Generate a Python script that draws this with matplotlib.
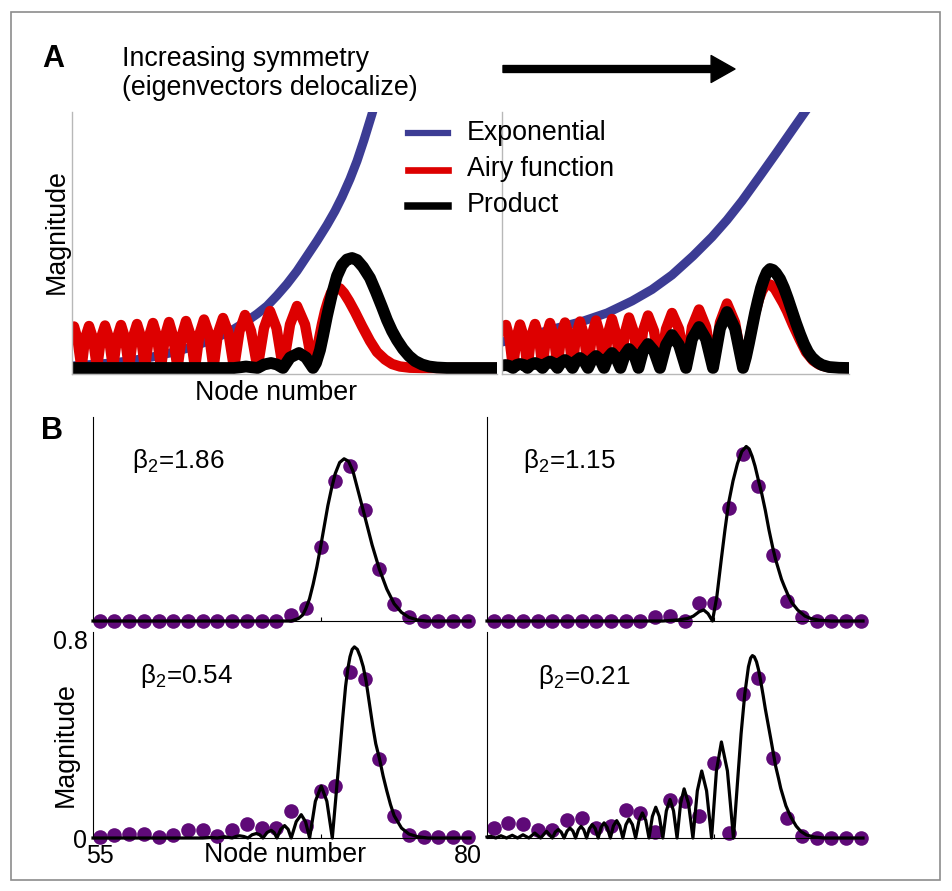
import matplotlib
matplotlib.use("Agg")
import matplotlib.pyplot as plt
from matplotlib.lines import Line2D
from matplotlib.patches import Rectangle, FancyArrowPatch

plt.rcParams['font.family'] = ['Liberation Sans', 'DejaVu Sans']
plt.rcParams['mathtext.fontset'] = 'custom'
plt.rcParams['mathtext.rm'] = 'Liberation Sans'
plt.rcParams['mathtext.default'] = 'regular'

# ---- panel A (arbitrary units) ----
a_left_exp_x = [0, 20, 40, 60, 80, 100, 120, 135, 150, 162, 175, 185, 195, 205, 215,
                225, 235, 245, 255, 263, 270, 278, 285, 292, 300, 306]
a_left_exp_y = [2, 3.5, 5, 7.5, 11, 15.5, 21, 26.5, 33, 39, 47, 54, 62, 72.5, 84,
                97, 112, 127, 143, 157, 171, 189, 207, 228, 254, 275]

a_left_airy_x = [0, 2, 5.5, 9.5, 13, 17, 21, 25, 29, 33, 37, 41, 45, 49, 53, 57,
                 61, 65, 69, 73, 77, 81, 85, 89, 93, 97, 101, 105.5, 110, 114, 118.5, 123,
                 127.5, 132, 137, 141.5, 146, 151, 156.5, 162, 167.5, 173, 179, 185.5,
                 192, 198, 204.5, 211, 218, 225, 233, 241,
                 244, 247, 250, 253, 256, 259, 262, 264, 268, 272, 277, 283, 290, 298,
                 305, 313, 320, 328, 338, 350, 425]
a_left_airy_y = [40, 41.5, 29, 0, 29.5, 42, 29.5, 0, 30, 42.5, 30, 0, 30, 43, 30, 0,
                 31, 44, 31, 0, 31.5, 45, 31.5, 0, 32, 46, 32, 0, 33, 47, 33, 0,
                 34, 48.5, 34, 0, 35, 50, 35, 0, 37, 53, 37, 0,
                 40, 57, 40, 0, 43.5, 62, 43.5, 0,
                 14, 29, 44, 57, 67, 75, 79.5, 81, 79.5, 75, 67, 56, 42, 27,
                 16, 8.5, 4, 1.5, 0.3, 0, 0]

a_left_prod_x = [0, 162, 168, 174, 180, 185.5, 192, 199, 205, 211, 218, 227, 234, 241,
                 244, 248, 251, 255, 260, 265, 270, 275, 280, 285, 291, 298, 304, 310,
                 315, 320, 325, 331, 337, 343, 350, 357, 365, 375, 425]
a_left_prod_y = [0, 0, 0.7, 1.5, 0.7, 0, 3.5, 5, 3.5, 0, 10.5, 15, 10.5, 0,
                 5, 18, 32, 52, 74, 92, 103, 108.5, 110, 108, 101, 90, 76, 61,
                 48, 37, 28, 19, 12, 7, 3.5, 1.5, 0.5, 0, 0]

a_right_exp_x = [0, 25, 55, 80, 105, 130, 150, 170, 191, 210, 225, 240, 258, 275, 291, 305, 315]
a_right_exp_y = [26, 31.5, 40, 46.5, 55, 67, 78.5, 93, 112, 131, 148, 167, 192, 216, 239, 259, 273]

a_right_airy_x = [0, 4, 7.5, 11, 14.5, 18, 22, 25.5, 29, 33, 37, 40.5, 44, 48, 52, 55.5,
                  59, 63, 67, 70.5, 74, 78, 82, 86, 90, 94, 98, 102, 106, 110, 114, 118.5,
                  123, 127, 132, 136.5, 141, 146, 152, 158, 164, 170, 177, 184,
                  190, 197, 204, 211, 218, 225, 233, 241,
                  244, 248, 251, 254, 257, 260, 263, 266, 269, 273, 277, 281, 285, 291,
                  298, 304, 311, 317, 324, 335, 347]
a_right_airy_y = [38, 43, 30, 0, 30.5, 43.5, 30.5, 0, 31, 44, 31, 0, 31.5, 45, 31.5, 0,
                  32, 45.5, 32, 0, 33, 46.5, 33, 0, 33.5, 47.5, 33.5, 0, 34.5, 49, 34.5, 0,
                  35.5, 50.5, 35.5, 0, 37, 52.5, 37, 0, 39, 55, 39, 0,
                  41, 58.5, 41, 0, 45.5, 64.5, 45.5, 0,
                  14, 31, 46, 58, 69, 77, 82, 84, 83, 79, 72, 65, 57, 43,
                  28, 16, 7.5, 3.5, 1.2, 0.2, 0]

a_right_prod_x = [0, 4, 7.5, 11, 14.5, 18, 22, 25.5, 29, 33, 37, 40.5, 44, 48, 52, 55.5,
                  59, 63, 67, 70.5, 74, 78, 82, 86, 90, 94, 98, 102, 106, 110, 114, 118.5,
                  123, 127, 132, 136.5, 141, 146, 152, 158, 164, 170, 177, 184,
                  190, 197, 204, 211, 218, 225, 233, 241,
                  244, 247, 250, 253, 256, 259, 262, 265, 268, 271, 274, 278, 282, 286,
                  290, 294, 298, 302, 306, 310, 315, 320, 327, 337, 347]
a_right_prod_y = [2.5, 3, 2, 0, 3, 4, 3, 0, 3.5, 5, 3.5, 0, 4.5, 6.5, 4.5, 0,
                  5.5, 8, 5.5, 0, 7, 10, 7, 0, 8.5, 12, 8.5, 0, 10.5, 15, 10.5, 0,
                  13.5, 19, 13.5, 0, 17, 24, 17, 0, 23, 33, 23, 0,
                  29, 41, 29, 0, 39.5, 56, 39.5, 0,
                  11, 25, 40, 55, 68, 80, 89, 96, 99, 98, 95, 89, 80, 69,
                  57, 45, 34, 24, 16, 10.5, 6, 3, 1, 0.2, 0]

legend_labels = ["Exponential", "Airy function", "Product"]

# ---- panel B ----
nodes = [55, 56, 57, 58, 59, 60, 61, 62, 63, 64, 65, 66, 67,
         68, 69, 70, 71, 72, 73, 74, 75, 76, 77, 78, 79, 80]
beta_labels = ["1.86", "1.15", "0.54", "0.21"]

dots_186 = [0, 0, 0, 0, 0, 0, 0, 0, 0, 0, 0, 0, 0,
            0.024, 0.053, 0.30, 0.57, 0.63, 0.45, 0.21, 0.07, 0.016, 0, 0, 0, 0]
dots_115 = [0, 0, 0, 0, 0, 0, 0, 0, 0, 0, 0, 0.016, 0.02,
            0, 0.073, 0.073, 0.46, 0.68, 0.55, 0.27, 0.08, 0.016, 0, 0, 0, 0]
dots_054 = [0.004, 0.013, 0.018, 0.018, 0.004, 0.013, 0.031, 0.031, 0.007, 0.031, 0.058, 0.040, 0.040,
            0.108, 0.050, 0.189, 0.209, 0.668, 0.641, 0.317, 0.088, 0.013, 0.004, 0.004, 0.004, 0.004]
dots_021 = [0.04, 0.061, 0.058, 0.031, 0.031, 0.074, 0.081, 0.040, 0.047, 0.112, 0.101, 0.023, 0.155,
            0.148, 0.088, 0.301, 0.020, 0.580, 0.644, 0.324, 0.081, 0.009, 0, 0, 0, 0]

fit_186_x = [54.55, 68.0, 68.5, 68.8, 69.0, 69.25, 69.5, 69.75, 70.0, 70.25, 70.5, 70.75, 71.0,
             71.3, 71.6, 71.9, 72.2, 72.55, 72.9, 73.2, 73.5, 73.75, 74.0, 74.25, 74.5, 74.75,
             75.0, 75.5, 76.0, 76.6, 77.2, 80.15]
fit_186_y = [0, 0, 0.01, 0.025, 0.05, 0.09, 0.15, 0.22, 0.30, 0.385, 0.47, 0.54, 0.60,
             0.645, 0.66, 0.65, 0.61, 0.53, 0.45, 0.38, 0.31, 0.26, 0.21, 0.17, 0.13, 0.10,
             0.07, 0.035, 0.015, 0.004, 0, 0]

fit_115_x = [54.55, 66.5, 67.5, 68.2, 68.6, 69.0, 69.3, 69.6, 69.9, 70.2, 70.5, 70.75, 71.0,
             71.3, 71.6, 71.9, 72.2, 72.4, 72.6, 72.8, 73.0, 73.25, 73.5, 73.75, 74.0, 74.2,
             74.4, 74.6, 74.8, 75.05, 75.3, 75.7, 76.2, 76.6, 77.2, 78.0, 80.15]
fit_115_y = [0, 0, 0.004, 0.01, 0.02, 0.038, 0.045, 0.03, 0, 0.1, 0.25, 0.37, 0.48,
             0.57, 0.64, 0.69, 0.71, 0.70, 0.67, 0.63, 0.58, 0.52, 0.45, 0.37, 0.30, 0.25,
             0.21, 0.17, 0.14, 0.105, 0.075, 0.045, 0.02, 0.01, 0.003, 0, 0]

fit_054_x = [54.55, 62.0, 62.5, 63.0, 63.5, 64.0, 64.25, 64.5, 64.8, 65.07, 65.35, 65.64, 65.87,
             66.09, 66.37, 66.65, 66.85, 67.04, 67.3, 67.56, 67.8, 68.01, 68.35, 68.69, 68.98,
             69.26, 69.65, 70.05, 70.43, 70.8, 71.05, 71.3, 71.5, 71.7, 71.85, 72.0, 72.15,
             72.3, 72.5, 72.7, 72.9, 73.1, 73.3, 73.55, 73.75, 74.0, 74.25, 74.5, 74.75,
             75.0, 75.5, 76.0, 76.6, 77.3, 80.15]
fit_054_y = [0, 0, 0.002, 0, 0.005, 0, 0.006, 0.009, 0.006, 0, 0.013, 0.018, 0.013,
             0, 0.022, 0.031, 0.022, 0, 0.035, 0.05, 0.035, 0, 0.066, 0.094, 0.066,
             0, 0.148, 0.209, 0.148, 0, 0.17, 0.34, 0.48, 0.61, 0.68, 0.73, 0.76,
             0.77, 0.76, 0.73, 0.69, 0.63, 0.55, 0.45, 0.38, 0.32, 0.25, 0.19, 0.135,
             0.09, 0.04, 0.016, 0.005, 0, 0]

fit_021_x = [54.55, 54.8, 55.15, 55.5, 55.88, 56.27, 56.63, 57.0, 57.4, 57.8, 58.2, 58.6, 59.0,
             59.2, 59.4, 59.6, 59.8, 60.0, 60.2, 60.4, 60.58, 60.77, 60.95, 61.14, 61.33,
             61.52, 61.72, 61.92, 62.12, 62.32, 62.52, 62.73, 62.95, 63.16, 63.38, 63.59, 63.8,
             64.01, 64.22, 64.45, 64.67, 64.9, 65.13, 65.36, 65.58, 65.81, 66.04, 66.28, 66.52,
             66.76, 67.01, 67.25, 67.49, 67.73, 67.97, 68.27, 68.57, 68.87, 69.17, 69.5, 69.84,
             70.17, 70.51, 70.92, 71.33, 71.6, 71.85, 72.1, 72.35, 72.5, 72.62, 72.75, 72.9,
             73.05, 73.19, 73.35, 73.5, 73.7, 73.87, 74.05, 74.2, 74.4, 74.55, 74.9, 75.23,
             75.6, 75.91, 76.3, 76.82, 77.5, 80.15]
fit_021_y = [0.004, 0.007, 0, 0.009, 0, 0.011, 0, 0.013, 0, 0.02, 0, 0.027, 0,
             0.024, 0.034, 0.024, 0, 0.028, 0.04, 0.028, 0, 0.033, 0.047, 0.033, 0,
             0.038, 0.054, 0.038, 0, 0.043, 0.061, 0.043, 0, 0.049, 0.07, 0.049, 0,
             0.054, 0.077, 0.054, 0, 0.071, 0.101, 0.071, 0, 0.087, 0.124, 0.087, 0,
             0.109, 0.155, 0.109, 0, 0.139, 0.198, 0.139, 0, 0.19, 0.27, 0.19, 0,
             0.27, 0.387, 0.27, 0, 0.22, 0.42, 0.58, 0.69, 0.725, 0.735, 0.73, 0.71,
             0.675, 0.63, 0.575, 0.52, 0.455, 0.40, 0.34, 0.29, 0.24, 0.20, 0.13, 0.085,
             0.048, 0.027, 0.012, 0.004, 0, 0]

# ---- figure ----
W, H = 952, 891
fig = plt.figure(figsize=(W / 100, H / 100), dpi=100)


def box(x0, y0, x1, y1):
    return [x0 / W, 1 - y1 / H, (x1 - x0) / W, (y1 - y0) / H]


blue, red, purple = '#3c3c94', '#dd0000', '#5f0a78'
fs = 19.3

fig.add_artist(Rectangle((11 / W, 1 - 880 / H), 929 / W, 868 / H, transform=fig.transFigure,
                         fill=False, edgecolor='#8c8c8c', lw=1.2))

# panel A
axA1 = fig.add_axes(box(72, 112, 497, 374))
axA2 = fig.add_axes(box(502, 112, 849, 374))
for ax, ex, ey, rx, ry, px, py, xmax in [
        (axA1, a_left_exp_x, a_left_exp_y, a_left_airy_x, a_left_airy_y, a_left_prod_x, a_left_prod_y, 425),
        (axA2, a_right_exp_x, a_right_exp_y, a_right_airy_x, a_right_airy_y, a_right_prod_x, a_right_prod_y, 347)]:
    ax.plot(ex, ey, color=blue, lw=6.5, solid_capstyle='butt', solid_joinstyle='round')
    ax.plot(rx, ry, color=red, lw=7.5, solid_joinstyle='round')
    ax.plot(px, py, color='black', lw=8.5, solid_joinstyle='round')
    ax.set_xlim(0, xmax)
    ax.set_ylim(-6, 256)
    ax.set_xticks([])
    ax.set_yticks([])
    for s in ['top', 'right']:
        ax.spines[s].set_visible(False)
    for s in ['left', 'bottom']:
        ax.spines[s].set_color('#b8b8b8')
        ax.spines[s].set_linewidth(1.0)
    ax.patch.set_alpha(0)

fig.text(42 / W, 1 - 67 / H, 'A', fontsize=22, fontweight='bold', va='baseline')
fig.text(122 / W, 1 - 66 / H, 'Increasing symmetry', fontsize=fs, va='baseline')
fig.text(122 / W, 1 - 95 / H, '(eigenvectors delocalize)', fontsize=fs, va='baseline')
fig.add_artist(FancyArrowPatch((503 / 100, (H - 69) / 100), (735 / 100, (H - 69) / 100),
                               transform=fig.dpi_scale_trans, shrinkA=0, shrinkB=0,
                               arrowstyle='simple,head_length=0.86,head_width=0.97,tail_width=0.25',
                               mutation_scale=20, color='black'))
fig.text(57 / W, 1 - 232 / H, 'Magnitude', fontsize=fs, rotation=90, ha='center', va='center')
fig.text(276 / W, 1 - 400 / H, 'Node number', fontsize=fs, ha='center', va='baseline')

for i, (lab, col, lw) in enumerate(zip(legend_labels, [blue, red, 'black'], [4.5, 4.8, 5.4])):
    yl = [133, 170, 206][i]
    yt = [140, 176, 212][i]
    fig.add_artist(Line2D([408 / W, 448 / W], [1 - yl / H, 1 - yl / H], color=col, lw=lw,
                          transform=fig.transFigure))
    fig.text(467 / W, 1 - yt / H, lab, fontsize=fs, va='baseline')

# panel B
fig.text(41 / W, 1 - 439 / H, 'B', fontsize=22, fontweight='bold', va='baseline')
b_boxes = [box(93, 417, 470, 621), box(487, 417, 863, 621),
           box(93, 632, 470, 838), box(487, 632, 863, 838)]
b_dots = [dots_186, dots_115, dots_054, dots_021]
b_fit_x = [fit_186_x, fit_115_x, fit_054_x, fit_021_x]
b_fit_y = [fit_186_y, fit_115_y, fit_054_y, fit_021_y]
b_text_pos = [(132, 468), (523, 468), (140, 683), (538, 684)]

for k in range(4):
    ax = fig.add_axes(b_boxes[k])
    ax.plot(nodes, b_dots[k], 'o', color=purple, ms=10.5, mec='none', clip_on=False, zorder=2)
    ax.plot(b_fit_x[k], b_fit_y[k], color='black', lw=2.3, clip_on=False, zorder=3,
            solid_joinstyle='round')
    ax.set_xlim(54.55, 80.15)
    ax.set_ylim(0, 0.83)
    for s in ['top', 'right']:
        ax.spines[s].set_visible(False)
    for s in ['left', 'bottom']:
        ax.spines[s].set_linewidth(0.8)
    ax.set_xticks([70], minor=True)
    ax.tick_params(axis='x', which='minor', direction='in', length=3, width=0.8)
    if k == 2:
        ax.set_xticks([55, 80])
        ax.set_xticklabels(['55', '80'], fontsize=18)
        ax.set_yticks([0, 0.8])
        ax.set_yticklabels(['0', '0.8'], fontsize=18)
        ax.tick_params(axis='both', which='major', length=0, pad=4)
    else:
        ax.set_xticks([])
        ax.set_yticks([])
    ax.patch.set_alpha(0)
    tx, ty = b_text_pos[k]
    fig.text(tx / W, 1 - ty / H, 'β$_2$=' + beta_labels[k], fontsize=18.7, va='baseline')

fig.text(66 / W, 1 - 745 / H, 'Magnitude', fontsize=fs, rotation=90, ha='center', va='center')
fig.text(285 / W, 1 - 862 / H, 'Node number', fontsize=fs, ha='center', va='baseline')

fig.savefig('out.png', dpi=100)
